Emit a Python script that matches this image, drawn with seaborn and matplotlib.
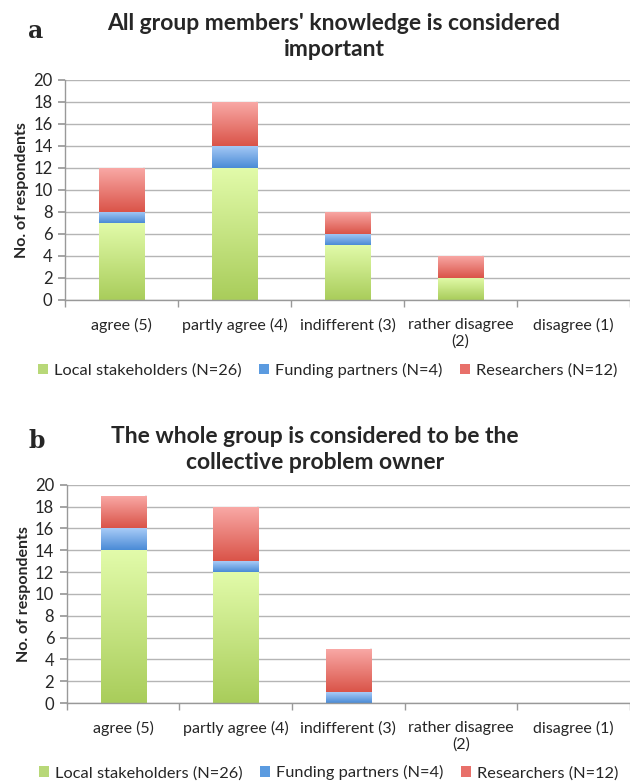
import numpy as np
import pandas as pd
import matplotlib
matplotlib.use('Agg')
import matplotlib.pyplot as plt
import seaborn as sns
from matplotlib.colors import LinearSegmentedColormap
from matplotlib.patches import Patch

# response categories (x axis)
categories = ['agree (5)', 'partly agree (4)', 'indifferent (3)',
              'rather disagree\n(2)', 'disagree (1)']
groups = ['Local stakeholders (N=26)', 'Funding partners (N=4)', 'Researchers (N=12)']

# panel a: all group members' knowledge is considered important
a_local = [7, 12, 5, 2, 0]
a_funding = [1, 2, 1, 0, 0]
a_research = [4, 4, 2, 2, 0]

# panel b: whole group is the collective problem owner
b_local = [14, 12, 0, 0, 0]
b_funding = [2, 1, 1, 0, 0]
b_research = [3, 5, 4, 0, 0]

titles = ["All group members' knowledge is considered\nimportant",
          "The whole group is considered to be the\ncollective problem owner"]
letters = ['a', 'b']

# (top colour, bottom colour) for each series gradient
gradients = [('#e2fbaa', '#a9cd5b'), ('#a8cbf7', '#4a8bd6'), ('#f9aaa7', '#da5449')]
legend_colors = ['#b8d878', '#5b9be0', '#e8706a']

sns.set_theme(style='white')
plt.rcParams['font.family'] = ['Lato', 'DejaVu Sans']


def stacked_panel(ax, series):
    bottoms = np.zeros(len(categories))
    for vals, (c_top, c_bot) in zip(series, gradients):
        df = pd.DataFrame({'cat': categories, 'val': vals})
        n_before = len(ax.patches)
        sns.barplot(data=df, x='cat', y='val', ax=ax, width=0.4,
                    color=c_bot, linewidth=0, order=categories)
        cmap = LinearSegmentedColormap.from_list('g', [c_bot, c_top])
        for i, p in enumerate(ax.patches[n_before:]):
            p.set_y(bottoms[i])
            p.set_height(vals[i])
            if vals[i] <= 0:
                p.set_visible(False)
                continue
            p.set_facecolor('none')
            x0 = p.get_x()
            w = p.get_width()
            grad = np.linspace(0, 1, 100).reshape(-1, 1)
            im = ax.imshow(grad, cmap=cmap, aspect='auto', origin='lower',
                           extent=[x0, x0 + w, bottoms[i], bottoms[i] + vals[i]],
                           zorder=2)
            im.set_clip_path(p)
            # faint shadow edge like the spreadsheet style
            ax.plot([x0 + w, x0 + w], [bottoms[i], bottoms[i] + vals[i]],
                    color='#dddddd', lw=1.2, zorder=1.9)
        bottoms = bottoms + np.array(vals)

    ax.set_xlim(-0.5, len(categories) - 0.5)
    ax.set_ylim(0, 20)
    ax.set_yticks(range(0, 21, 2))
    ax.yaxis.grid(True, color='#b5b5b5', lw=1)
    ax.set_axisbelow(True)
    ax.set_xticks(np.arange(-0.5, len(categories), 1), minor=True)
    ax.set_xticks(range(len(categories)))
    ax.set_xticklabels(categories, fontsize=11.5)
    ax.tick_params(axis='x', which='major', length=0, pad=13)
    ax.tick_params(axis='x', which='minor', length=5, color='#999999', bottom=True)
    ax.tick_params(axis='y', length=5, color='#999999', left=True, labelsize=12, pad=4)
    for s in ['top', 'right']:
        ax.spines[s].set_visible(False)
    for s in ['left', 'bottom']:
        ax.spines[s].set_color('#999999')
        ax.spines[s].set_linewidth(1)
    ax.set_xlabel('')
    ax.set_ylabel('No. of respondents', fontsize=11.5, fontweight='bold', labelpad=3)
    handles = [Patch(facecolor=c, edgecolor='none') for c in legend_colors]
    ax.legend(handles, groups, loc='upper center', bbox_to_anchor=(0.465, -0.285),
              ncol=3, frameon=False, fontsize=11.8, handlelength=0.6,
              handleheight=0.6, handletextpad=0.35, columnspacing=1.1,
              borderpad=0, borderaxespad=0)


fig = plt.figure(figsize=(6.3, 7.83), dpi=100)
ax_a = fig.add_axes([0.103, 0.617, 0.897, 0.281])
ax_b = fig.add_axes([0.106, 0.102, 0.894, 0.279])

stacked_panel(ax_a, [a_local, a_funding, a_research])
stacked_panel(ax_b, [b_local, b_funding, b_research])

fig.text(0.53, 0.983, titles[0], ha='center', va='top', fontsize=16.5,
         fontweight='bold', linespacing=1.28)
fig.text(0.50, 0.456, titles[1], ha='center', va='top', fontsize=16.5,
         fontweight='bold', linespacing=1.28)
fig.text(0.045, 0.976, letters[0], ha='left', va='top', fontsize=17,
         fontweight='bold', family='DejaVu Serif')
fig.text(0.045, 0.452, letters[1], ha='left', va='top', fontsize=17,
         fontweight='bold', family='DejaVu Serif')

fig.savefig('out.png', dpi=100)
